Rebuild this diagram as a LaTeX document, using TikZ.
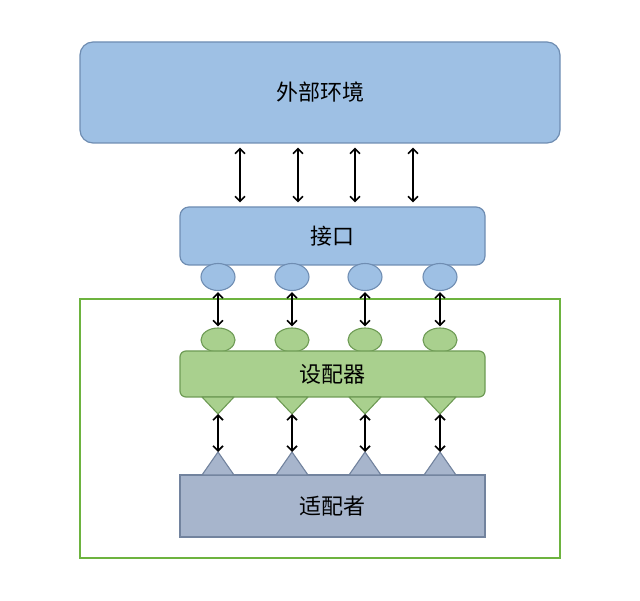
\documentclass[tikz,border=0pt]{standalone}
\usepackage{fontspec}
\newfontfamily\cjk{Noto Sans CJK SC}
\usetikzlibrary{arrows.meta,positioning,shapes.geometric}

\definecolor{skyfill}{HTML}{9EC0E4}
\definecolor{skyline}{HTML}{6F8DB2}
\definecolor{leaffill}{HTML}{A9D08E}
\definecolor{leafline}{HTML}{6E9B55}
\definecolor{slatefill}{HTML}{A7B5CC}
\definecolor{slateline}{HTML}{72839E}
\definecolor{zoneline}{HTML}{6DB33F}

\begin{document}
\begin{tikzpicture}[
  x=1pt,y=-1pt,
  >={Straight Barb[length=5pt,width=10pt]},
  block/.style={draw,line width=1.2pt,align=center,inner sep=0pt,
    font=\cjk\fontsize{22}{26}\selectfont},
  skyblock/.style={block,fill=skyfill,draw=skyline,rounded corners=9pt},
  leafblock/.style={block,fill=leaffill,draw=leafline,rounded corners=6pt},
  slateblock/.style={block,fill=slatefill,draw=slateline},
  knob/.style={ellipse,draw,line width=1.1pt,inner sep=0pt},
  link/.style={<->,line width=1.6pt,black}
]
  \useasboundingbox (0,0) rectangle (640,601);

  % outer world and the interface
  \node[skyblock,rounded corners=13pt,minimum width=480pt,minimum height=101pt]
    (world) at (320,92.5) {外部环境};
  \node[skyblock,minimum width=305pt,minimum height=58pt]
    (port) at (332.5,236) {接口};
  \foreach \i/\x in {1/218,2/292,3/365,4/440}
    \node[knob,fill=skyfill,draw=skyline,minimum width=34pt,minimum height=27pt]
      (plug\i) at (\x,277) {};

  \foreach \x in {240,298,355,413}
    \draw[link,shorten <=4pt,shorten >=4pt] (world.south -| \x,0) -- (port.north -| \x,0);

  % adapter zone
  \node[draw=zoneline,line width=1.4pt,minimum width=480pt,minimum height=259pt]
    (zone) at (320,428.5) {};

  \foreach \i/\x in {1/218,2/292,3/365,4/440}
    \node[knob,fill=leaffill,draw=leafline,minimum width=34pt,minimum height=24pt]
      (socket\i) at (\x,340) {};
  \node[leafblock,minimum width=305pt,minimum height=46pt]
    (adapter) at (332.5,374) {设配器};
  \foreach \i/\x in {1/218,2/292,3/365,4/440} {
    \filldraw[fill=leaffill,draw=leafline,line width=1.1pt,line join=round]
      (\x-16,397) -- (\x+16,397) -- (\x,414) -- cycle;
    \coordinate (tipdown\i) at (\x,414);
  }

  \node[slateblock,minimum width=305pt,minimum height=62pt]
    (adaptee) at (332.5,506) {适配者};
  \foreach \i/\x in {1/218,2/292,3/365,4/440} {
    \filldraw[fill=slatefill,draw=slateline,line width=1.1pt,line join=round]
      (\x-16,475) -- (\x+16,475) -- (\x,452) -- cycle;
    \coordinate (tipup\i) at (\x,452);
  }

  \foreach \i in {1,...,4} {
    \draw[link,shorten <=1pt,shorten >=1pt] (plug\i.south) -- (socket\i.north);
    \draw[link] (tipdown\i) -- (tipup\i);
  }
\end{tikzpicture}
\end{document}
